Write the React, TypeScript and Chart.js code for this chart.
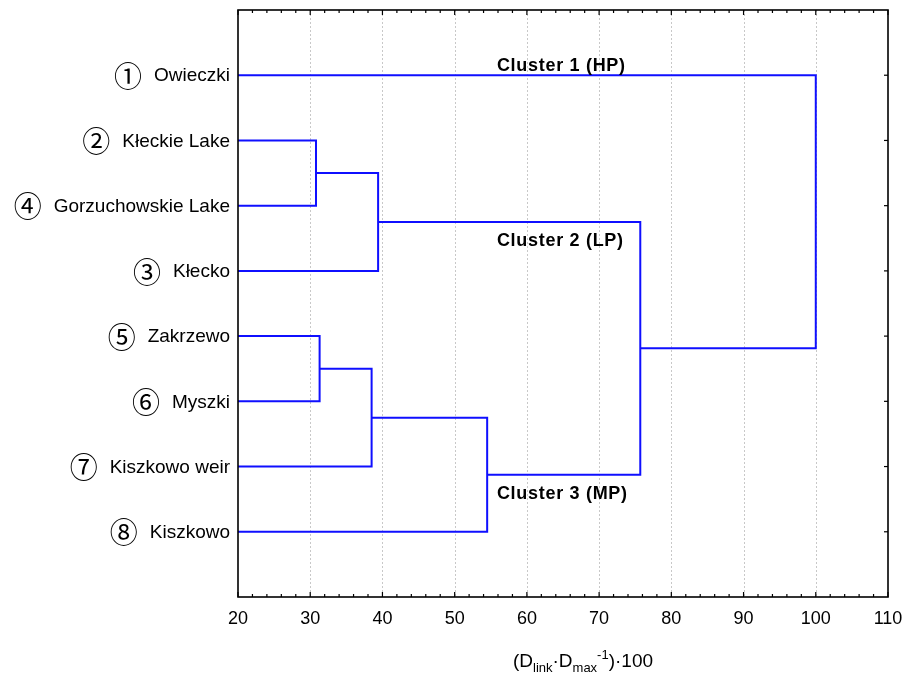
import React, { useEffect, useRef } from "react";
import { Chart, registerables } from "chart.js";

Chart.register(...registerables);

// Leaves (top to bottom)
const siteNumbers = ["①", "②", "④", "③", "⑤", "⑥", "⑦", "⑧"];
const siteNames = [
  "Owieczki",
  "Kłeckie Lake",
  "Gorzuchowskie Lake",
  "Kłecko",
  "Zakrzewo",
  "Myszki",
  "Kiszkowo weir",
  "Kiszkowo",
];
// Linkage: node ids 0..7 are leaves, merge i creates node 8+i
const mergeA = [1, 4, 8, 9, 11, 10, 0];
const mergeB = [2, 5, 3, 6, 7, 12, 13];
const mergeHeight = [30.8, 31.3, 39.4, 38.5, 54.5, 75.7, 100];

const xTicks = [20, 30, 40, 50, 60, 70, 80, 90, 100, 110];

const clusterLabels = ["Cluster 1 (HP)", "Cluster 2 (LP)", "Cluster 3 (MP)"];

const FONT = "'Liberation Sans', Arial, sans-serif";

function buildDatasets() {
  const n = siteNames.length;
  const nodeX: number[] = [];
  const nodeY: number[] = [];
  for (let i = 0; i < n; i++) {
    nodeX.push(xTicks[0]);
    nodeY.push(i + 1);
  }
  const sets: any[] = [];
  for (let m = 0; m < mergeHeight.length; m++) {
    const a = mergeA[m];
    const b = mergeB[m];
    const h = mergeHeight[m];
    sets.push({
      data: [
        { x: nodeX[a], y: nodeY[a] },
        { x: h, y: nodeY[a] },
        { x: h, y: nodeY[b] },
        { x: nodeX[b], y: nodeY[b] },
      ],
      showLine: true,
      borderColor: "rgb(15,15,255)",
      borderWidth: 2,
      pointRadius: 0,
      fill: false,
      tension: 0,
    });
    nodeX.push(h);
    nodeY.push((nodeY[a] + nodeY[b]) / 2);
  }
  return sets;
}

const framePlugin = {
  id: "frame",
  beforeDatasetsDraw(chart: any) {
    const { ctx, chartArea } = chart;
    const xs = chart.scales.x;
    ctx.save();
    ctx.strokeStyle = "#c8c8c8";
    ctx.lineWidth = 1;
    ctx.setLineDash([2, 2]);
    for (let i = 1; i < xTicks.length - 1; i++) {
      const px = Math.round(xs.getPixelForValue(xTicks[i])) + 0.5;
      ctx.beginPath();
      ctx.moveTo(px, chartArea.top);
      ctx.lineTo(px, chartArea.bottom);
      ctx.stroke();
    }
    ctx.restore();
  },
  afterDatasetsDraw(chart: any) {
    const { ctx, chartArea } = chart;
    const xs = chart.scales.x;
    const ys = chart.scales.y;
    const { left, right, top, bottom } = chartArea;
    ctx.save();
    ctx.setLineDash([]);
    ctx.strokeStyle = "#000";
    ctx.lineWidth = 1.6;
    ctx.strokeRect(left, top, right - left, bottom - top);
    // minor/major ticks top & bottom
    ctx.lineWidth = 1.2;
    for (let v = xTicks[0]; v <= xTicks[xTicks.length - 1]; v += 2) {
      const px = xs.getPixelForValue(v);
      const len = (v - xTicks[0]) % 10 === 0 ? 5 : 3;
      ctx.beginPath();
      ctx.moveTo(px, top);
      ctx.lineTo(px, top + len);
      ctx.moveTo(px, bottom);
      ctx.lineTo(px, bottom - len);
      ctx.stroke();
    }
    // right ticks at each leaf
    for (let i = 0; i < siteNames.length; i++) {
      const py = ys.getPixelForValue(i + 1);
      ctx.beginPath();
      ctx.moveTo(right, py);
      ctx.lineTo(right - 4, py);
      ctx.stroke();
    }
    // leaf labels
    ctx.fillStyle = "#000";
    ctx.textBaseline = "middle";
    for (let i = 0; i < siteNames.length; i++) {
      const py = ys.getPixelForValue(i + 1);
      ctx.font = `19px ${FONT}`;
      ctx.textAlign = "right";
      const nx = left - 8;
      ctx.fillText(siteNames[i], nx, py + 1);
      const w = ctx.measureText(siteNames[i]).width;
      ctx.font = `28px 'Noto Sans CJK JP', 'DejaVu Sans', sans-serif`;
      ctx.fillText(siteNumbers[i], nx - w - 12, py + 1);
    }
    // cluster labels
    ctx.font = `bold 18px ${FONT}`;
    ctx.textAlign = "left";
    ctx.textBaseline = "alphabetic";
    (ctx as any).letterSpacing = "0.7px";
    const cx = xs.getPixelForValue(55.85);
    const cy = [0.93, 3.62, 7.5];
    for (let i = 0; i < clusterLabels.length; i++) {
      ctx.fillText(clusterLabels[i], cx, ys.getPixelForValue(cy[i]));
    }
    (ctx as any).letterSpacing = "0px";
    // axis title
    const parts = [
      { t: "(D", s: 19, dy: 0 },
      { t: "link", s: 13, dy: 5 },
      { t: "·D", s: 19, dy: 0 },
      { t: "max", s: 13, dy: 5 },
      { t: "-1", s: 13, dy: -8 },
      { t: ")·100", s: 19, dy: 0 },
    ];
    const widths: number[] = [];
    for (const p of parts) {
      ctx.font = `${p.s}px ${FONT}`;
      widths.push(ctx.measureText(p.t).width);
    }
    const total = widths.reduce((a, b) => a + b, 0);
    let x = 583 - total / 2;
    const base = 667;
    for (let i = 0; i < parts.length; i++) {
      const p = parts[i];
      ctx.font = `${p.s}px ${FONT}`;
      ctx.fillText(p.t, x, base + p.dy);
      x += widths[i];
    }
    ctx.restore();
  },
};

export default function App() {
  const ref = useRef<HTMLCanvasElement>(null);
  useEffect(() => {
    if (!ref.current) return;
    const chart = new Chart(ref.current, {
      type: "scatter",
      data: { datasets: buildDatasets() },
      options: {
        animation: false,
        responsive: true,
        maintainAspectRatio: false,
        layout: { padding: { top: 10, right: 28, left: 0, bottom: 0 } },
        plugins: { legend: { display: false }, tooltip: { enabled: false } },
        scales: {
          x: {
            type: "linear",
            min: xTicks[0],
            max: xTicks[xTicks.length - 1],
            afterBuildTicks(scale: any) {
              scale.ticks = xTicks.map((v) => ({ value: v }));
            },
            afterFit(scale: any) {
              scale.height = 80;
            },
            grid: { display: false },
            border: { display: false },
            ticks: {
              color: "#000",
              font: { family: FONT, size: 18 },
              padding: 3,
              maxRotation: 0,
              autoSkip: false,
            },
          },
          y: {
            type: "linear",
            min: 0,
            max: siteNames.length + 1,
            reverse: true,
            afterFit(scale: any) {
              scale.width = 238;
            },
            grid: { display: false },
            border: { display: false },
            ticks: { display: false },
          },
        },
      },
      plugins: [framePlugin],
    });
    return () => chart.destroy();
  }, []);
  return (
    <div style={{ position: "fixed", left: 0, top: 0, width: 916, height: 677, background: "#fff" }}>
      <canvas ref={ref} />
    </div>
  );
}
